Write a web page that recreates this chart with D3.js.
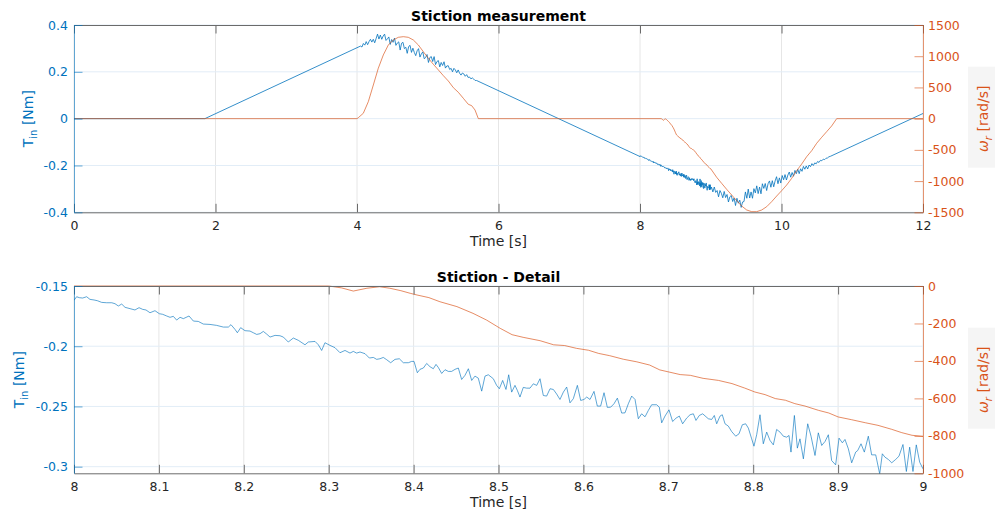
<!DOCTYPE html>
<html><head><meta charset="utf-8">
<script src="https://cdn.jsdelivr.net/npm/d3@7"></script>
<style>body{margin:0;background:#fff;} svg{display:block;font-family:"DejaVu Sans",sans-serif;}</style>
</head><body><svg id="c" width="995" height="510"></svg>
<script>
// ---------------- DATA ----------------
const topTimeTicks = [0, 2, 4, 6, 8, 10, 12];
const topTimeLabels = ["0", "2", "4", "6", "8", "10", "12"];
const topTorqueTicks = [-0.4, -0.2, 0, 0.2, 0.4];
const topTorqueLabels = ["-0.4", "-0.2", "0", "0.2", "0.4"];
const topSpeedTicks = [-1500, -1000, -500, 0, 500, 1000, 1500];
const topSpeedLabels = ["-1500", "-1000", "-500", "0", "500", "1000", "1500"];

const detailTimeTicks = [8, 8.1, 8.2, 8.3, 8.4, 8.5, 8.6, 8.7, 8.8, 8.9, 9];
const detailTimeLabels = ["8", "8.1", "8.2", "8.3", "8.4", "8.5", "8.6", "8.7", "8.8", "8.9", "9"];
const detailTorqueTicks = [-0.3, -0.25, -0.2, -0.15];
const detailTorqueLabels = ["-0.3", "-0.25", "-0.2", "-0.15"];
const detailSpeedTicks = [-1000, -800, -600, -400, -200, 0];
const detailSpeedLabels = ["-1000", "-800", "-600", "-400", "-200", "0"];

// Input torque T_in [Nm] before the detail window  [time s, torque Nm]
const torqueBefore = [
  [0, 0], [1.85, 0],
  [4.05, 0.310], [4.07, 0.306], [4.09, 0.321], [4.11, 0.314], [4.13, 0.329], [4.15, 0.316],
  [4.17, 0.329], [4.19, 0.339], [4.21, 0.327], [4.23, 0.339], [4.25, 0.324], [4.27, 0.342],
  [4.29, 0.361], [4.31, 0.340], [4.33, 0.357], [4.35, 0.339], [4.37, 0.353], [4.39, 0.361],
  [4.41, 0.334], [4.43, 0.341], [4.45, 0.349], [4.47, 0.317], [4.49, 0.338], [4.51, 0.326],
  [4.53, 0.344], [4.55, 0.313], [4.57, 0.323], [4.59, 0.328], [4.61, 0.293], [4.63, 0.322],
  [4.65, 0.326], [4.67, 0.299], [4.69, 0.305], [4.71, 0.279], [4.73, 0.308], [4.75, 0.313],
  [4.77, 0.283], [4.79, 0.301], [4.81, 0.283], [4.83, 0.269], [4.85, 0.290], [4.87, 0.299],
  [4.89, 0.263], [4.91, 0.277], [4.93, 0.285], [4.95, 0.256], [4.97, 0.261], [4.99, 0.274],
  [5.01, 0.240], [5.03, 0.261], [5.05, 0.265], [5.07, 0.244], [5.09, 0.265], [5.11, 0.231],
  [5.13, 0.244], [5.15, 0.248], [5.17, 0.221], [5.19, 0.240], [5.21, 0.227], [5.23, 0.243],
  [5.25, 0.216], [5.27, 0.225], [5.29, 0.226], [5.31, 0.210], [5.33, 0.215], [5.35, 0.200],
  [5.37, 0.215], [5.39, 0.208], [5.41, 0.196], [5.43, 0.208], [5.45, 0.194], [5.47, 0.186],
  [5.49, 0.195], [5.51, 0.191], [5.53, 0.181], [5.55, 0.188], [5.57, 0.176], [5.59, 0.178],
  [5.61, 0.170], [5.63, 0.174], [5.65, 0.169], [5.67, 0.163], [5.69, 0.163]
];

// Input torque in the detail window 8..9 s
const detailTorque = [
  [8.0000, -0.1619], [8.0031, -0.1589], [8.0063, -0.1597], [8.0102, -0.1600], [8.0149, -0.1589],
  [8.0188, -0.1611], [8.0236, -0.1616], [8.0275, -0.1622], [8.0326, -0.1636], [8.0385, -0.1639],
  [8.0444, -0.1639], [8.0483, -0.1647], [8.0522, -0.1666], [8.0562, -0.1650], [8.0601, -0.1677],
  [8.0660, -0.1688], [8.0718, -0.1699], [8.0766, -0.1680], [8.0809, -0.1694], [8.0848, -0.1699],
  [8.0895, -0.1722], [8.0954, -0.1705], [8.1005, -0.1730], [8.1044, -0.1735], [8.1092, -0.1749],
  [8.1131, -0.1760], [8.1170, -0.1752], [8.1209, -0.1783], [8.1249, -0.1760], [8.1288, -0.1771],
  [8.1355, -0.1749], [8.1406, -0.1791], [8.1464, -0.1794], [8.1523, -0.1816], [8.1602, -0.1819],
  [8.1680, -0.1827], [8.1759, -0.1841], [8.1818, -0.1841], [8.1849, -0.1821], [8.1896, -0.1860],
  [8.1924, -0.1888], [8.1963, -0.1846], [8.2014, -0.1871], [8.2073, -0.1874], [8.2112, -0.1888],
  [8.2152, -0.1902], [8.2191, -0.1896], [8.2230, -0.1877], [8.2269, -0.1899], [8.2309, -0.1924],
  [8.2368, -0.1910], [8.2426, -0.1913], [8.2466, -0.1924], [8.2524, -0.1965], [8.2583, -0.1932],
  [8.2642, -0.1951], [8.2721, -0.1988], [8.2760, -0.1965], [8.2839, -0.1960], [8.2878, -0.1988],
  [8.2917, -0.2035], [8.2956, -0.1971], [8.3015, -0.1993], [8.3074, -0.2012], [8.3133, -0.2054],
  [8.3192, -0.2035], [8.3251, -0.2057], [8.3290, -0.2043], [8.3329, -0.2057], [8.3369, -0.2048],
  [8.3428, -0.2062], [8.3479, -0.2098], [8.3526, -0.2093], [8.3565, -0.2109], [8.3604, -0.2104],
  [8.3643, -0.2093], [8.3683, -0.2112], [8.3730, -0.2137], [8.3781, -0.2109], [8.3832, -0.2104],
  [8.3879, -0.2137], [8.3938, -0.2137], [8.3977, -0.2126], [8.4005, -0.2126], [8.4044, -0.2220],
  [8.4075, -0.2192], [8.4115, -0.2181], [8.4154, -0.2143], [8.4193, -0.2170], [8.4232, -0.2187],
  [8.4264, -0.2151], [8.4291, -0.2176], [8.4331, -0.2226], [8.4370, -0.2195], [8.4409, -0.2209],
  [8.4448, -0.2209], [8.4488, -0.2192], [8.4527, -0.2181], [8.4566, -0.2276], [8.4605, -0.2242],
  [8.4645, -0.2187], [8.4684, -0.2284], [8.4723, -0.2248], [8.4762, -0.2265], [8.4802, -0.2373],
  [8.4841, -0.2248], [8.4880, -0.2237], [8.4900, -0.2248], [8.4939, -0.2270], [8.4978, -0.2325],
  [8.5010, -0.2353], [8.5049, -0.2284], [8.5088, -0.2359], [8.5120, -0.2237], [8.5155, -0.2381],
  [8.5194, -0.2325], [8.5222, -0.2367], [8.5253, -0.2422], [8.5292, -0.2342], [8.5332, -0.2348],
  [8.5371, -0.2348], [8.5410, -0.2312], [8.5450, -0.2325], [8.5489, -0.2270], [8.5528, -0.2409],
  [8.5567, -0.2414], [8.5607, -0.2353], [8.5646, -0.2359], [8.5685, -0.2397], [8.5724, -0.2442],
  [8.5764, -0.2381], [8.5803, -0.2339], [8.5842, -0.2470], [8.5881, -0.2436], [8.5929, -0.2325],
  [8.5968, -0.2450], [8.6007, -0.2442], [8.6039, -0.2422], [8.6078, -0.2442], [8.6125, -0.2375],
  [8.6164, -0.2497], [8.6203, -0.2497], [8.6243, -0.2386], [8.6282, -0.2508], [8.6321, -0.2506],
  [8.6360, -0.2478], [8.6400, -0.2431], [8.6451, -0.2555], [8.6490, -0.2553], [8.6529, -0.2478],
  [8.6569, -0.2414], [8.6608, -0.2442], [8.6647, -0.2602], [8.6686, -0.2561], [8.6726, -0.2586],
  [8.6765, -0.2533], [8.6804, -0.2486], [8.6863, -0.2486], [8.6894, -0.2506], [8.6922, -0.2636],
  [8.6961, -0.2580], [8.7008, -0.2528], [8.7051, -0.2625], [8.7091, -0.2597], [8.7130, -0.2580],
  [8.7169, -0.2644], [8.7216, -0.2597], [8.7256, -0.2569], [8.7295, -0.2561], [8.7326, -0.2616],
  [8.7365, -0.2575], [8.7405, -0.2561], [8.7471, -0.2602], [8.7511, -0.2608], [8.7542, -0.2575],
  [8.7570, -0.2644], [8.7609, -0.2580], [8.7636, -0.2569], [8.7668, -0.2644], [8.7707, -0.2663],
  [8.7746, -0.2708], [8.7794, -0.2747], [8.7833, -0.2727], [8.7872, -0.2652], [8.7911, -0.2644],
  [8.7943, -0.2680], [8.7982, -0.2769], [8.8009, -0.2830], [8.8041, -0.2735], [8.8080, -0.2569],
  [8.8119, -0.2810], [8.8159, -0.2713], [8.8198, -0.2782], [8.8237, -0.2819], [8.8276, -0.2691],
  [8.8316, -0.2713], [8.8355, -0.2747], [8.8394, -0.2755], [8.8422, -0.2741], [8.8445, -0.2879],
  [8.8485, -0.2575], [8.8520, -0.2846], [8.8551, -0.2769], [8.8591, -0.2935], [8.8642, -0.2644],
  [8.8681, -0.2747], [8.8728, -0.2907], [8.8767, -0.2719], [8.8807, -0.2824], [8.8846, -0.2791],
  [8.8885, -0.2735], [8.8924, -0.2949], [8.8971, -0.2985], [8.9011, -0.2763], [8.9050, -0.2802],
  [8.9081, -0.2774], [8.9121, -0.2852], [8.9160, -0.2968], [8.9207, -0.2879], [8.9231, -0.2866],
  [8.9270, -0.2810], [8.9309, -0.2879], [8.9356, -0.2747], [8.9395, -0.2902], [8.9443, -0.2902],
  [8.9490, -0.3060], [8.9521, -0.2893], [8.9552, -0.2921], [8.9592, -0.2940], [8.9631, -0.2968],
  [8.9678, -0.2940], [8.9717, -0.2913], [8.9764, -0.2816], [8.9804, -0.3040], [8.9843, -0.2838],
  [8.9882, -0.3040], [8.9921, -0.2819], [8.9961, -0.2963], [9.0000, -0.3018]
];

// Input torque after the detail window
const torqueAfter = [
  [9.01, -0.292], [9.03, -0.313], [9.05, -0.292], [9.07, -0.315], [9.09, -0.307], [9.11, -0.334],
  [9.13, -0.307], [9.15, -0.319], [9.17, -0.338], [9.19, -0.311], [9.21, -0.337], [9.23, -0.324],
  [9.25, -0.356], [9.27, -0.334], [9.29, -0.328], [9.31, -0.354], [9.33, -0.339], [9.35, -0.371],
  [9.37, -0.340], [9.39, -0.361], [9.41, -0.348], [9.43, -0.379], [9.45, -0.356], [9.47, -0.354],
  [9.49, -0.313], [9.51, -0.340], [9.53, -0.301], [9.55, -0.339], [9.57, -0.313], [9.59, -0.340],
  [9.61, -0.299], [9.63, -0.317], [9.65, -0.287], [9.67, -0.320], [9.69, -0.292], [9.71, -0.321],
  [9.73, -0.278], [9.75, -0.298], [9.77, -0.277], [9.79, -0.307], [9.81, -0.278], [9.83, -0.266],
  [9.85, -0.293], [9.87, -0.265], [9.89, -0.291], [9.91, -0.266], [9.93, -0.248], [9.95, -0.278],
  [9.97, -0.253], [9.99, -0.275], [10.01, -0.243], [10.03, -0.261], [10.05, -0.239], [10.07, -0.262],
  [10.09, -0.241], [10.11, -0.228], [10.13, -0.250], [10.15, -0.230], [10.17, -0.246], [10.19, -0.221],
  [10.21, -0.235], [10.23, -0.216], [10.25, -0.235], [10.27, -0.214], [10.29, -0.225], [10.31, -0.204],
  [10.33, -0.216], [10.35, -0.202], [10.37, -0.215], [10.39, -0.198], [10.41, -0.205], [10.43, -0.192],
  [10.45, -0.200], [10.47, -0.189], [10.49, -0.193], [10.51, -0.183], [10.53, -0.187], [10.55, -0.178],
  [10.57, -0.180], [10.59, -0.173], [10.61, -0.175], [10.63, -0.169], [10.65, -0.168], [10.67, -0.163],
  [10.69, -0.161], [12.00, 0.022]
];

// Rotor speed omega_r [rad/s]  [time s, speed]
const speedBefore = [
  [0, 0], [4.0, 0], [4.019, 16], [4.089, 86], [4.160, 272], [4.231, 539], [4.301, 807], [4.372, 1020],
  [4.443, 1180], [4.513, 1260], [4.584, 1303], [4.655, 1313], [4.725, 1303], [4.796, 1260], [4.867, 1180],
  [4.937, 1073], [5.008, 967], [5.079, 871], [5.150, 780], [5.220, 689], [5.291, 603], [5.362, 496],
  [5.432, 422], [5.503, 326], [5.573, 230], [5.621, 208], [5.668, 139], [5.715, 0]
];
const detailSpeed = [
  [8.0, 0], [8.300, 0], [8.315, -10], [8.329, -27], [8.345, -12], [8.360, -4], [8.372, -12], [8.385, -25],
  [8.396, -39], [8.404, -48], [8.418, -62], [8.431, -84], [8.451, -110], [8.470, -146], [8.486, -182],
  [8.502, -226], [8.516, -260], [8.529, -274], [8.549, -292], [8.565, -314], [8.578, -318], [8.592, -333],
  [8.606, -343], [8.618, -360], [8.631, -372], [8.647, -391], [8.663, -405], [8.678, -422], [8.690, -448],
  [8.714, -473], [8.726, -477], [8.741, -493], [8.759, -504], [8.775, -521], [8.790, -545], [8.802, -566],
  [8.814, -580], [8.826, -601], [8.838, -610], [8.849, -628], [8.861, -641], [8.877, -664], [8.889, -678],
  [8.900, -699], [8.916, -714], [8.932, -730], [8.947, -744], [8.963, -765], [8.975, -783], [8.987, -797],
  [9.000, -803]
];
const speedAfter = [
  [9.084, -940], [9.154, -1036], [9.225, -1132], [9.296, -1223], [9.366, -1314], [9.437, -1399],
  [9.508, -1463], [9.579, -1490], [9.649, -1490], [9.720, -1463], [9.791, -1410], [9.861, -1330],
  [9.932, -1239], [10.003, -1153], [10.073, -1063], [10.144, -956], [10.215, -833], [10.286, -726],
  [10.356, -609], [10.427, -513], [10.497, -395], [10.568, -299], [10.639, -208], [10.709, -117],
  [10.780, 0], [12.0, 0]
];

// ---------------- DRAWING ----------------
const svg = d3.select('#c');
const BLUE = '#0072BD', ORANGE = '#D95319', TXT = '#262626', AXC = '#6b6b6b';
const L = 74, R = 923;

function panel(p) {
  const x = d3.scaleLinear().domain(p.xDomain).range([L, R]);
  const yL = d3.scaleLinear().domain(p.yLDomain).range([p.bottom, p.top]);
  const yR = d3.scaleLinear().domain(p.yRDomain).range([p.bottom, p.top]);
  const g = svg.append('g');

  g.append('g').selectAll('line').data(p.xTicks).join('line')
    .attr('x1', d => x(d)).attr('x2', d => x(d)).attr('y1', p.top).attr('y2', p.bottom)
    .attr('stroke', '#e6e6e6').attr('stroke-width', 1);
  g.append('g').selectAll('line').data(p.yLTicks).join('line')
    .attr('x1', L).attr('x2', R).attr('y1', d => yL(d)).attr('y2', d => yL(d))
    .attr('stroke', '#e2edf7').attr('stroke-width', 1);

  const cid = 'clip' + p.id;
  svg.append('clipPath').attr('id', cid).append('rect')
    .attr('x', L).attr('y', p.top - 1).attr('width', R - L).attr('height', p.bottom - p.top + 2);

  const lineL = d3.line().x(d => x(d[0])).y(d => yL(d[1]));
  const lineR = d3.line().x(d => x(d[0])).y(d => yR(d[1]));
  g.append('path').datum(p.torque).attr('clip-path', `url(#${cid})`)
    .attr('d', lineL).attr('fill', 'none').attr('stroke', BLUE).attr('stroke-width', p.lw).attr('stroke-opacity', p.bop);
  g.append('path').datum(p.speed).attr('clip-path', `url(#${cid})`)
    .attr('d', lineR).attr('fill', 'none').attr('stroke', ORANGE).attr('stroke-width', 0.9).attr('stroke-opacity', 0.75);

  const gt = g.append('g').attr('transform', `translate(0,${p.top})`)
    .call(d3.axisTop(x).tickValues(p.xTicks).tickFormat('').tickSizeInner(-8.5).tickSizeOuter(0));
  gt.select('.domain').attr('stroke', AXC);
  gt.selectAll('.tick line').attr('stroke', AXC);

  const gx = g.append('g').attr('transform', `translate(0,${p.bottom})`)
    .call(d3.axisBottom(x).tickValues(p.xTicks).tickFormat((d, i) => p.xLabels[i])
      .tickSizeInner(-8.5).tickSizeOuter(0).tickPadding(8.5))
    .attr('font-size', 12.5).attr('font-family', '"DejaVu Sans", sans-serif');
  gx.select('.domain').attr('stroke', AXC);
  gx.selectAll('.tick line').attr('stroke', AXC);
  gx.selectAll('.tick text').attr('fill', TXT);

  const gl = g.append('g').attr('transform', `translate(${L},0)`)
    .call(d3.axisLeft(yL).tickValues(p.yLTicks).tickFormat((d, i) => p.yLLabels[i])
      .tickSizeInner(-8.5).tickSizeOuter(0).tickPadding(6))
    .attr('font-size', 12.5).attr('font-family', '"DejaVu Sans", sans-serif');
  gl.select('.domain').attr('stroke', BLUE).attr('stroke-opacity', 0.6);
  gl.selectAll('.tick line').attr('stroke', BLUE).attr('stroke-opacity', 0.6);
  gl.selectAll('.tick text').attr('fill', BLUE);

  const gr = g.append('g').attr('transform', `translate(${R},0)`)
    .call(d3.axisRight(yR).tickValues(p.yRTicks).tickFormat((d, i) => p.yRLabels[i])
      .tickSizeInner(-8.5).tickSizeOuter(0).tickPadding(5))
    .attr('font-size', 12.5).attr('font-family', '"DejaVu Sans", sans-serif');
  gr.select('.domain').attr('stroke', ORANGE).attr('stroke-opacity', 0.6);
  gr.selectAll('.tick line').attr('stroke', ORANGE).attr('stroke-opacity', 0.6);
  gr.selectAll('.tick text').attr('fill', ORANGE);

  g.append('text').attr('x', (L + R) / 2).attr('y', p.titleY).attr('text-anchor', 'middle')
    .attr('font-size', 14).attr('font-weight', 'bold').attr('fill', '#000').text(p.title);
  g.append('text').attr('x', (L + R) / 2).attr('y', p.xLabelY).attr('text-anchor', 'middle')
    .attr('font-size', 14).attr('fill', TXT).text('Time [s]');

  const cy = (p.top + p.bottom) / 2;
  const tl = g.append('text').attr('transform', `translate(${p.yLabelX},${cy}) rotate(-90)`)
    .attr('text-anchor', 'middle').attr('font-size', 14).attr('fill', BLUE);
  tl.append('tspan').text('T');
  tl.append('tspan').attr('font-size', 10).attr('dy', 3.5).text('in');
  tl.append('tspan').attr('dy', -3.5).text(' [Nm]');

  g.append('rect').attr('x', 968).attr('y', cy - 52).attr('width', 27).attr('height', 101).attr('fill', '#f5f5f5');
  const tr = g.append('text').attr('transform', `translate(988,${cy}) rotate(-90)`)
    .attr('text-anchor', 'middle').attr('font-size', 14).attr('fill', ORANGE);
  tr.append('tspan').attr('font-style', 'italic').text('ω');
  tr.append('tspan').attr('font-style', 'italic').attr('font-size', 10).attr('dy', 3.5).text('r');
  tr.append('tspan').attr('dy', -3.5).text(' [rad/s]');
}

panel({
  id: 'top', top: 25, bottom: 212.3,
  xDomain: [0, 12], yLDomain: [-0.4, 0.4], yRDomain: [-1500, 1500],
  xTicks: topTimeTicks, xLabels: topTimeLabels,
  yLTicks: topTorqueTicks, yLLabels: topTorqueLabels,
  yRTicks: topSpeedTicks, yRLabels: topSpeedLabels,
  torque: torqueBefore.concat(detailTorque, torqueAfter),
  speed: speedBefore.concat(detailSpeed, speedAfter),
  title: 'Stiction measurement', titleY: 21, xLabelY: 246, yLabelX: 33, lw: 0.8, bop: 1
});

panel({
  id: 'bot', top: 286, bottom: 473.3,
  xDomain: [8, 9], yLDomain: [-0.3055, -0.15], yRDomain: [-1000, 0],
  xTicks: detailTimeTicks, xLabels: detailTimeLabels,
  yLTicks: detailTorqueTicks, yLLabels: detailTorqueLabels,
  yRTicks: detailSpeedTicks, yRLabels: detailSpeedLabels,
  torque: detailTorque, speed: detailSpeed,
  title: 'Stiction - Detail', titleY: 282, xLabelY: 507, yLabelX: 24, lw: 0.9, bop: 0.7
});
</script>
</body></html>
